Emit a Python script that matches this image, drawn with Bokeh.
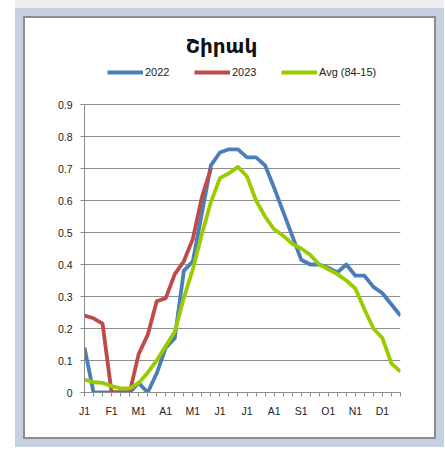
from bokeh.plotting import figure
from bokeh.models import (FixedTicker, NumeralTickFormatter, Legend, LegendItem,
                          Label, Range1d)
from bokeh.embed import file_html
from bokeh.resources import INLINE

# ---- data (dekads: 36 per year) ----
dekad = list(range(36))
month_labels = ["J1", "F1", "M1", "A1", "M1", "J1", "J1", "A1", "S1", "O1", "N1", "D1"]
y_ticks = [0, 0.1, 0.2, 0.3, 0.4, 0.5, 0.6, 0.7, 0.8, 0.9]

y2022 = [0.14, 0.0, 0.0, 0.0, 0.0, 0.0, 0.03, 0.0, 0.06, 0.14, 0.17, 0.38,
         0.41, 0.56, 0.71, 0.75, 0.76, 0.76, 0.735, 0.735, 0.71, 0.64,
         0.565, 0.49, 0.415, 0.40, 0.40, 0.39, 0.375, 0.40, 0.365, 0.365,
         0.33, 0.31, 0.275, 0.24]
y2023 = [0.24, 0.232, 0.215, 0.0, 0.0, 0.0, 0.12, 0.18, 0.285, 0.295, 0.37,
         0.41, 0.48, 0.61, 0.70]
avg = [0.04, 0.032, 0.03, 0.02, 0.013, 0.013, 0.03, 0.062, 0.10, 0.145, 0.19,
       0.295, 0.385, 0.495, 0.595, 0.67, 0.685, 0.705, 0.675, 0.60, 0.55,
       0.51, 0.49, 0.465, 0.45, 0.43, 0.40, 0.385, 0.37, 0.35, 0.325, 0.26,
       0.20, 0.17, 0.09, 0.065]

series_names = ["2022", "2023", "Avg (84-15)"]
title_text = "Շիրակ"

colors = ["#4A7EBB", "#BE4B48", "#99CC00"]

# frame spans the whole chart box; the axis itself is bounded to 0..0.9
p = figure(width=413, height=423, output_backend="svg", toolbar_location=None,
           x_range=Range1d(0, 35), y_range=Range1d(0, 1.16875),
           min_border_left=59, min_border_right=38, min_border_bottom=49,
           min_border_top=0)
p.styles = {"margin-left": "23px", "margin-top": "16px",
            "border": "2px solid #8d8d8d",
            "box-shadow": "0 0 0 8px #c6d0e0, 0 -8px 0 8px #efefef"}
p.background_fill_color = "white"
p.border_fill_color = "white"
p.outline_line_color = None

r1 = p.line(dekad, y2022, line_color=colors[0], line_width=3.8, line_join="round")
r2 = p.line(dekad[:len(y2023)], y2023, line_color=colors[1], line_width=3.8, line_join="round")
r3 = p.line(dekad, avg, line_color=colors[2], line_width=3.8, line_join="round")

# x axis
p.xaxis.ticker = FixedTicker(ticks=dekad)
overrides = {i: "" for i in dekad}
for k, lab in enumerate(month_labels):
    overrides[3 * k] = lab
p.xaxis.major_label_overrides = overrides
p.xaxis.minor_tick_line_color = None
p.xaxis.major_tick_in = 0
p.xaxis.major_tick_out = 4
p.xaxis.axis_line_color = "#8d8d8d"
p.xaxis.major_tick_line_color = "#8d8d8d"
p.xaxis.major_label_text_font = "Liberation Sans"
p.xaxis.major_label_text_font_size = "10.5px"
p.xaxis.major_label_text_color = "#222222"
p.xaxis.major_label_standoff = 8

# y axis
p.yaxis.ticker = FixedTicker(ticks=y_ticks)
p.yaxis.bounds = (y_ticks[0], y_ticks[-1])
p.yaxis.formatter = NumeralTickFormatter(format="0.[0]")
p.yaxis.minor_tick_line_color = None
p.yaxis.major_tick_in = 0
p.yaxis.major_tick_out = 4
p.yaxis.axis_line_color = "#8d8d8d"
p.yaxis.major_tick_line_color = "#8d8d8d"
p.yaxis.major_label_text_font = "Liberation Sans"
p.yaxis.major_label_text_font_size = "10.5px"
p.yaxis.major_label_text_color = "#222222"
p.yaxis.major_label_standoff = 8

p.xgrid.grid_line_color = None
p.ygrid.ticker = FixedTicker(ticks=y_ticks)
p.ygrid.grid_line_color = "#8d8d8d"
p.ygrid.grid_line_width = 1

legend = Legend(items=[LegendItem(label=series_names[0], renderers=[r1]),
                       LegendItem(label=series_names[1], renderers=[r2]),
                       LegendItem(label=series_names[2], renderers=[r3])],
                orientation="horizontal", location=(23, 314),
                glyph_width=36, glyph_height=12, label_width=49,
                label_standoff=2, spacing=0, padding=0, margin=0,
                border_line_color=None, background_fill_alpha=0,
                label_text_font="Liberation Sans", label_text_font_size="11px",
                label_text_color="#222222")
p.add_layout(legend, "center")

t = Label(x=137, y=347, x_units="screen", y_units="screen", text=title_text,
          text_align="center", text_baseline="middle",
          text_font="DejaVu Sans", text_font_size="20px",
          text_font_style="bold", text_color="#111111")
p.add_layout(t)

open("out.html", "w").write(file_html(p, INLINE))
